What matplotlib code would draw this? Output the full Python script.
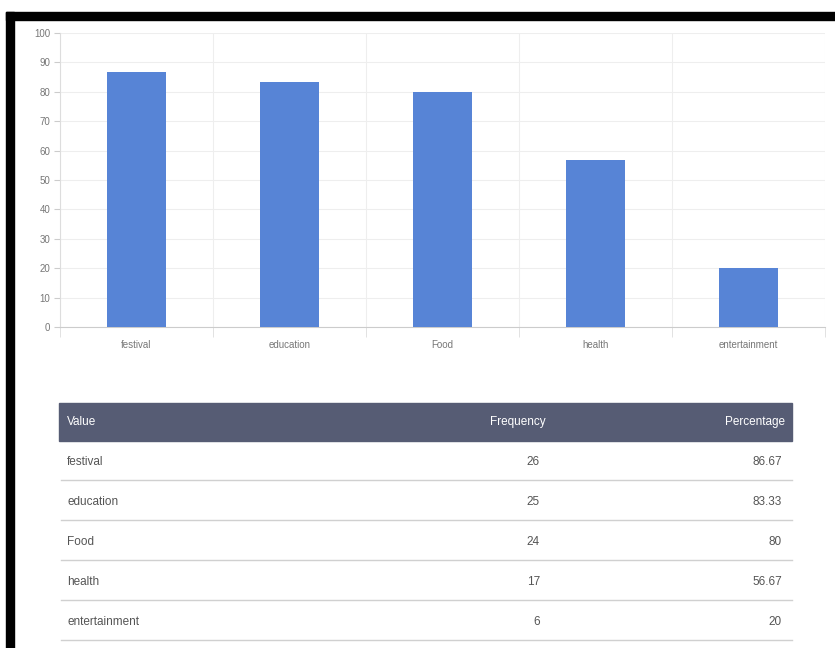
import matplotlib
matplotlib.use("Agg")
import matplotlib.pyplot as plt
from matplotlib.patches import Rectangle
import numpy as np

categories = ["festival", "education", "Food", "health", "entertainment"]
frequency = [26, 25, 24, 17, 6]
percentage = [86.67, 83.33, 80, 56.67, 20]
pct_labels = ["86.67", "83.33", "80", "56.67", "20"]
yticks = list(range(0, 101, 10))
headers = ["Value", "Frequency", "Percentage"]

plt.rcParams['font.family'] = ['Liberation Sans', 'DejaVu Sans']

W, H = 835, 648
fig = plt.figure(figsize=(W / 100, H / 100), dpi=100)
fig.patch.set_facecolor("white")

# ---- bar chart ----
x0, x1, ytop, ybot = 60, 825, 33, 327
ax = fig.add_axes([x0 / W, 1 - ybot / H, (x1 - x0) / W, (ybot - ytop) / H])
xpos = np.arange(len(categories))
ax.bar(xpos, percentage, width=0.39, color="#5784d6", zorder=3)
ax.set_xlim(-0.5, len(categories) - 0.5)
ax.set_ylim(0, 100)
ax.set_yticks(yticks)
ax.set_yticklabels([str(v) for v in yticks], fontsize=7, color="#777777")
ax.set_xticks(xpos)
ax.set_xticklabels(categories, fontsize=7, color="#777777")
ax.tick_params(axis="x", which="major", length=0, pad=9)
ax.tick_params(axis="y", which="major", length=4, color="#cccccc", pad=3)
bounds = np.arange(-0.5, len(categories), 1.0)
ax.set_xticks(bounds, minor=True)
ax.tick_params(axis="x", which="minor", length=7, color="#dddddd")
ax.grid(axis="y", which="major", color="#eeeeee", linewidth=0.8, zorder=0)
ax.grid(axis="x", which="minor", color="#eeeeee", linewidth=0.8, zorder=0)
for s in ["top", "right"]:
    ax.spines[s].set_visible(False)
ax.spines["left"].set_color("#dddddd")
ax.spines["bottom"].set_color("#cccccc")

# ---- overlay for table and frame ----
ov = fig.add_axes([0, 0, 1, 1], zorder=5)
ov.set_xlim(0, W)
ov.set_ylim(H, 0)
ov.axis("off")
ov.patch.set_alpha(0)

# black frame bands
ov.add_patch(Rectangle((6, 12), W - 6, 8, color="black"))
ov.add_patch(Rectangle((6, 12), 8, H - 12, color="black"))

# table
tx0, tx1 = 59, 792
hy0, hy1 = 403, 441
ov.add_patch(Rectangle((tx0, hy0), tx1 - tx0, hy1 - hy0, color="#565c74"))
ov.text(67, (hy0 + hy1) / 2, headers[0], color="white", fontsize=8.5, va="center", ha="left")
ov.text(546, (hy0 + hy1) / 2, headers[1], color="white", fontsize=8.5, va="center", ha="right")
ov.text(785, (hy0 + hy1) / 2, headers[2], color="white", fontsize=8.5, va="center", ha="right")

row_h = 40
for i, cat in enumerate(categories):
    top = hy1 + i * row_h
    cy = top + 21
    ov.text(67, cy, cat, color="#555555", fontsize=8.5, va="center", ha="left")
    ov.text(540, cy, str(frequency[i]), color="#555555", fontsize=8.5, va="center", ha="right")
    ov.text(782, cy, pct_labels[i], color="#555555", fontsize=8.5, va="center", ha="right")
    ly = top + row_h - 1
    ov.plot([61, tx1], [ly, ly], color="#d0d0d0", linewidth=1)

fig.savefig("out.png", dpi=100, facecolor="white")
